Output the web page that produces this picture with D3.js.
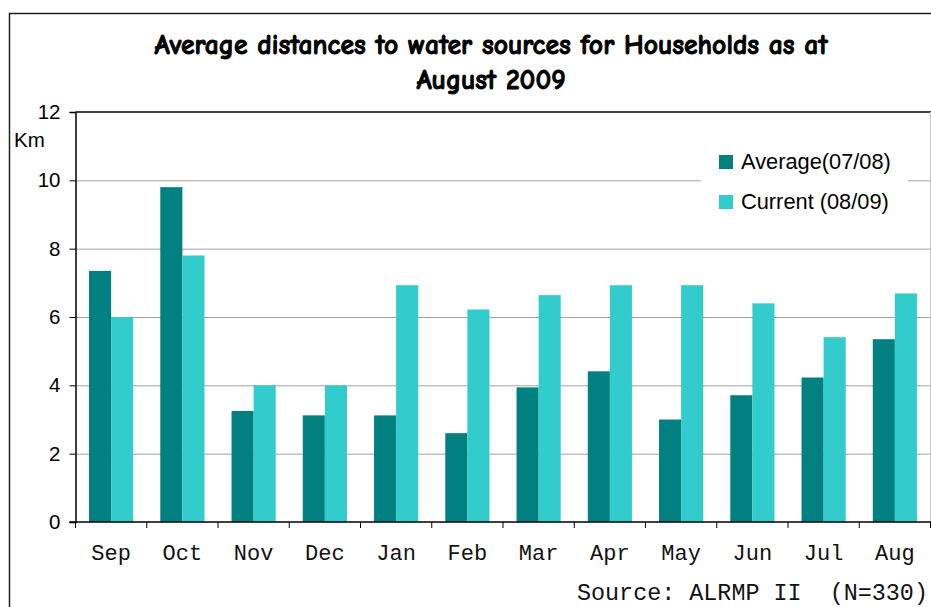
<!DOCTYPE html>
<html>
<head>
<meta charset="utf-8">
<script src="https://cdn.jsdelivr.net/npm/d3@7"></script>
<style>
  html, body { margin: 0; padding: 0; background: #fff; }
  svg { display: block; }
</style>
</head>
<body>
<svg id="chart" width="931" height="607"></svg>
<script>
const categories = ["Sep","Oct","Nov","Dec","Jan","Feb","Mar","Apr","May","Jun","Jul","Aug"];
const seriesNames = ["Average(07/08)", "Current (08/09)"];
const averageValues = [7.35, 9.8, 3.25, 3.12, 3.12, 2.6, 3.94, 4.41, 3.0, 3.71, 4.23, 5.35];
const currentValues = [6.0, 7.8, 4.0, 4.0, 6.93, 6.22, 6.64, 6.93, 6.93, 6.4, 5.41, 6.69];
const yTicks = [0, 2, 4, 6, 8, 10, 12];
const titleLines = ["Average distances to water sources for Households as at", "August 2009"];
const yUnit = "Km";
const sourceText = "Source: ALRMP II\u00a0\u00a0(N=330)";
const colors = ["#008080", "#33CCCC"];

const svg = d3.select("#chart");
const plot = { left: 75.5, right: 930.5, top: 112, bottom: 522 };

// outer frame
svg.append("rect").attr("x", 9.5).attr("y", 13.5).attr("width", 1000).attr("height", 700)
  .attr("fill", "#fff").attr("stroke", "#222").attr("stroke-width", 1.5);

const x0 = d3.scaleBand().domain(categories).range([plot.left, plot.right]).paddingInner(0).paddingOuter(0);
const bw = x0.bandwidth();
const x1 = d3.scaleBand().domain(seriesNames).range([bw * 0.19, bw * 0.81]).padding(0);
const y = d3.scaleLinear().domain([0, 12]).range([plot.bottom, plot.top]);

// gridlines
svg.append("g").selectAll("line").data(yTicks.filter(t => t > 0 && t < 12)).join("line")
  .attr("x1", plot.left).attr("x2", plot.right)
  .attr("y1", d => y(d) + 0.5).attr("y2", d => y(d) + 0.5)
  .attr("stroke", "#a0a0a0").attr("stroke-width", 1);
// top border line
svg.append("line").attr("x1", plot.left).attr("x2", plot.right + 1)
  .attr("y1", y(12)).attr("y2", y(12)).attr("stroke", "#444").attr("stroke-width", 2);
// right border
svg.append("line").attr("x1", plot.right).attr("x2", plot.right)
  .attr("y1", y(12)).attr("y2", plot.bottom).attr("stroke", "#c8c8c8").attr("stroke-width", 1);

// bars
const data = categories.map((c, i) => ({ c, vals: [averageValues[i], currentValues[i]] }));
const groups = svg.append("g").selectAll("g").data(data).join("g")
  .attr("transform", d => `translate(${x0(d.c)},0)`);
groups.selectAll("rect").data(d => d.vals.map((v, k) => ({ v, k }))).join("rect")
  .attr("x", d => x1(seriesNames[d.k]))
  .attr("width", x1.bandwidth())
  .attr("y", d => y(d.v))
  .attr("height", d => y(0) - y(d.v))
  .attr("fill", d => colors[d.k]);

// y axis
const yAxis = d3.axisLeft(y).tickValues(yTicks).tickSize(6).tickPadding(9).tickFormat(d3.format("d"));
const gy = svg.append("g").attr("transform", `translate(${plot.left},0)`).call(yAxis);
gy.select(".domain").attr("stroke", "#000").attr("stroke-width", 1.5);
gy.selectAll(".tick line").attr("stroke", "#000");
gy.selectAll(".tick text").attr("font-family", "Liberation Sans, Arial, sans-serif")
  .attr("font-size", 20.5).attr("fill", "#000");

// x axis
const xAxis = d3.axisBottom(x0).tickSize(0).tickPadding(22);
const gx = svg.append("g").attr("transform", `translate(0,${plot.bottom})`).call(xAxis);
gx.select(".domain").remove();
gx.selectAll(".tick text").attr("font-family", "Liberation Mono, Courier New, monospace")
  .attr("font-size", 22).attr("fill", "#111");
svg.append("line").attr("x1", plot.left - 6).attr("x2", plot.right + 1)
  .attr("y1", plot.bottom).attr("y2", plot.bottom).attr("stroke", "#000").attr("stroke-width", 1.5);
svg.append("g").selectAll("line").data(categories.concat(["__end"])).join("line")
  .attr("x1", (d, i) => plot.left + i * bw).attr("x2", (d, i) => plot.left + i * bw)
  .attr("y1", plot.bottom).attr("y2", plot.bottom + 6).attr("stroke", "#000").attr("stroke-width", 1);

// unit label
svg.append("text").attr("x", 14).attr("y", 147).text(yUnit)
  .attr("font-family", "Liberation Sans, Arial, sans-serif").attr("font-size", 20.5).attr("fill", "#000");

// legend
const lg = svg.append("g");
lg.append("rect").attr("x", 701).attr("y", 140).attr("width", 207).attr("height", 82).attr("fill", "#fff");
seriesNames.forEach((s, i) => {
  const yy = 155 + i * 40;
  lg.append("rect").attr("x", 719).attr("y", yy).attr("width", 14).attr("height", 14).attr("fill", colors[i]);
  lg.append("text").attr("x", 741).attr("y", yy + 13.5).text(s)
    .attr("font-family", "Liberation Sans, Arial, sans-serif").attr("font-size", 21.8).attr("fill", "#000");
});

// title
const titleFont = "'Comic Sans MS', 'Comic Neue', 'DejaVu Sans', sans-serif";
const t1 = svg.append("text").attr("x", 491).attr("y", 54).attr("text-anchor", "middle")
  .attr("font-family", titleFont).attr("font-weight", "bold").attr("font-size", 22).attr("fill", "#000")
  .attr("stroke", "#000").attr("stroke-width", 0.9)
  .text(titleLines[0]);
// fit to measured width of the reference
let fs = 22;
const target = 673;
const len = t1.node().getComputedTextLength();
if (len > 0) fs = 22 * target / len;
t1.attr("font-size", fs);
svg.append("text").attr("x", 491).attr("y", 89).attr("text-anchor", "middle")
  .attr("font-family", titleFont).attr("font-weight", "bold").attr("font-size", fs).attr("fill", "#000")
  .attr("stroke", "#000").attr("stroke-width", 0.9)
  .text(titleLines[1]);

// source
svg.append("text").attr("x", 577).attr("y", 600).text(sourceText)
  .attr("font-family", "Liberation Mono, Courier New, monospace").attr("font-size", 23.4).attr("fill", "#111");
</script>
</body>
</html>
